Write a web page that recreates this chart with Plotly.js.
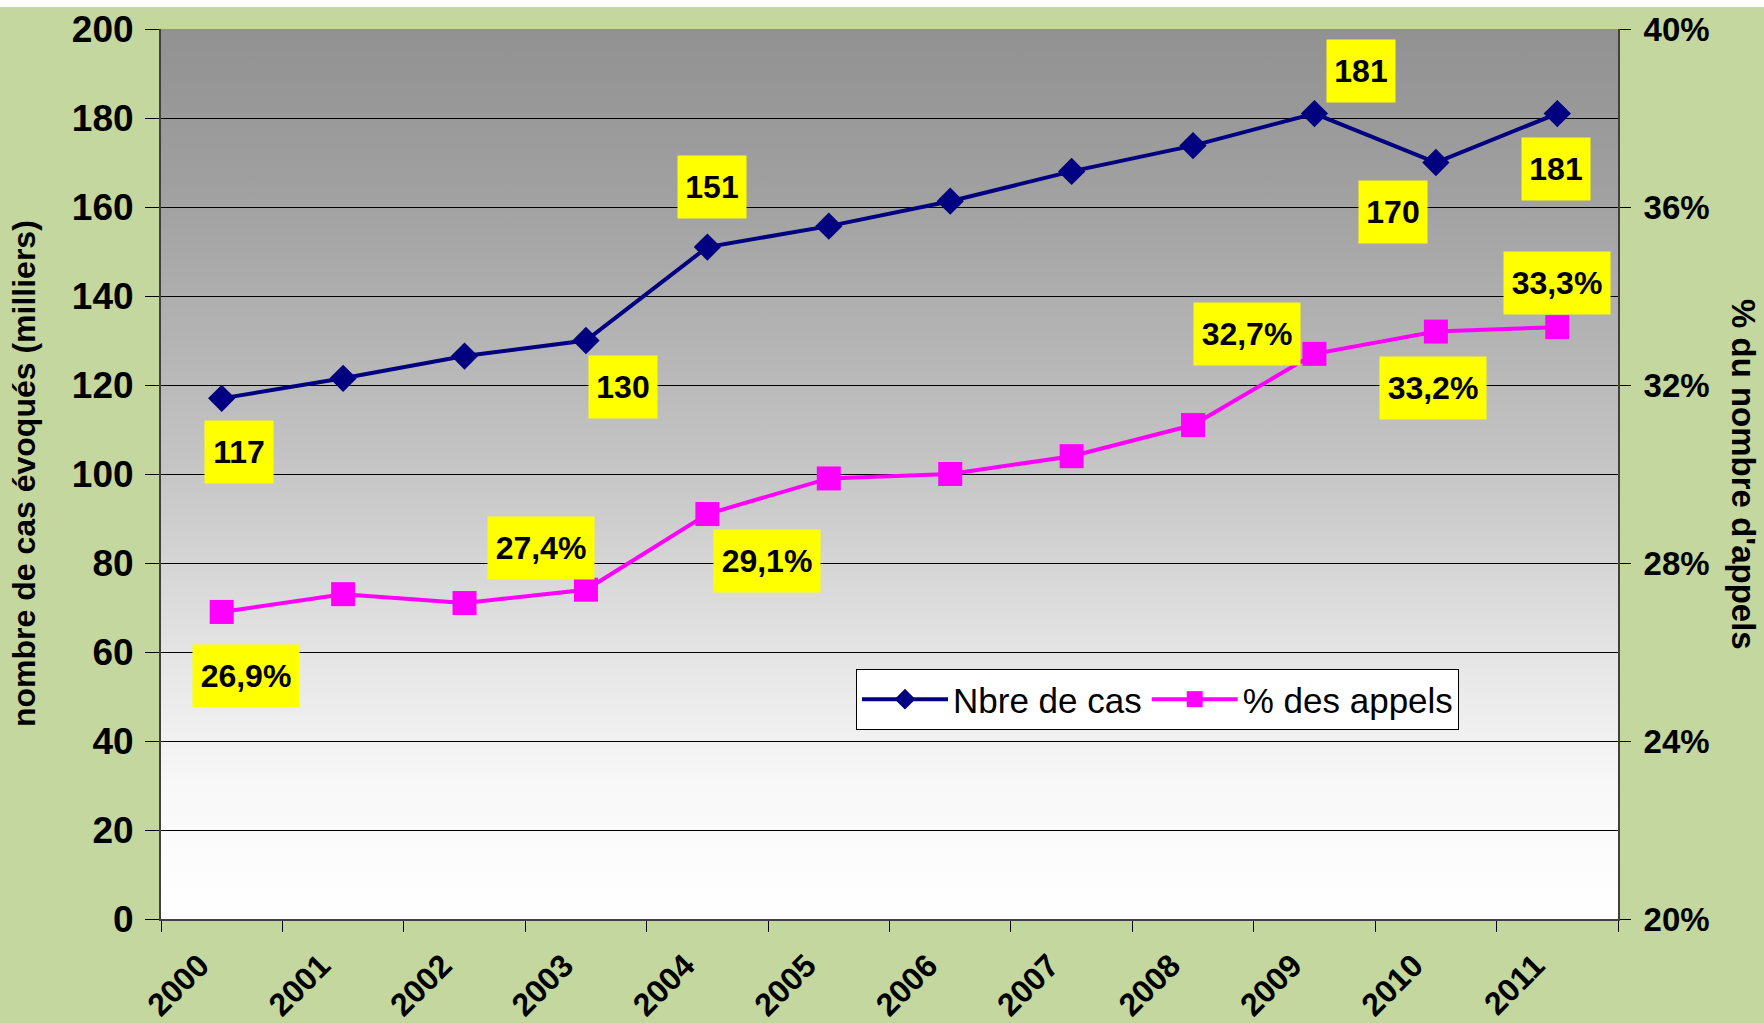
<!DOCTYPE html>
<html>
<head>
<meta charset="utf-8">
<script src="https://cdn.plot.ly/plotly-3.0.1.min.js"></script>
<style>
  html, body { margin: 0; padding: 0; background: #ffffff; }
  #chart { width: 1764px; height: 1023px; }
</style>
</head>
<body>
<div id="chart"></div>
<script>
// ---- data ----
const years = ['2000','2001','2002','2003','2004','2005','2006','2007','2008','2009','2010','2011'];
const nbreCas = [117, 121.5, 126.5, 130, 151, 155.7, 161.3, 168, 173.8, 181, 170, 181];
const pctAppels = [26.9, 27.3, 27.1, 27.4, 29.1, 29.9, 30.0, 30.4, 31.1, 32.7, 33.2, 33.3];
const casLabelYears = ['2000','2003','2004','2009','2010','2011'];
const pctLabelYears = ['2000','2003','2004','2009','2010','2011'];
const seriesNames = ['Nbre de cas', '% des appels'];
const yTitleLeft = 'nombre de cas évoqués (milliers)';
const yTitleRight = "% du nombre d'appels";

// ---- styles ----
const FONT = '"Liberation Sans", Arial, sans-serif';
const GREEN = '#c4d79e';
const NAVY = '#000080';
const PINK = '#ff00ff';
// label offsets in pixels (dx right, dy down) per labelled year
const casOffsets = {'2000':[17,54],'2003':[37,46],'2004':[5,-60],'2009':[47,-43],'2010':[-43,49],'2011':[-1,55]};
const pctOffsets = {'2000':[24,64],'2003':[-45,-42],'2004':[60,47],'2009':[-67,-20],'2010':[-3,56],'2011':[0,-44]};

function fmt(v, pct) {
  return pct ? v.toFixed(1).replace('.', ',') + '%' : String(Math.round(v));
}

const annotations = [];
casLabelYears.forEach(y => {
  const i = years.indexOf(y);
  const off = casOffsets[y];
  annotations.push({
    x: i, y: nbreCas[i], xref: 'x', yref: 'y',
    text: fmt(nbreCas[i], false), showarrow: false,
    xshift: off[0], yshift: -off[1],
    bgcolor: '#ffff00', width: 66, height: 60,
    font: {family: FONT, size: 32, color: '#000000', weight: 'bold'}
  });
});
pctLabelYears.forEach(y => {
  const i = years.indexOf(y);
  const off = pctOffsets[y];
  annotations.push({
    x: i, y: pctAppels[i], xref: 'x', yref: 'y2',
    text: fmt(pctAppels[i], true), showarrow: false,
    xshift: off[0], yshift: -off[1],
    bgcolor: '#ffff00', width: 104, height: 60,
    font: {family: FONT, size: 32, color: '#000000', weight: 'bold'}
  });
});
annotations.push({
  text: yTitleLeft, xref: 'paper', yref: 'paper', x: -0.094, y: 0.5,
  xanchor: 'center', yanchor: 'middle', textangle: -90, showarrow: false,
  font: {family: FONT, size: 32, color: '#000000', weight: 'bold'}
});
annotations.push({
  text: yTitleRight, xref: 'paper', yref: 'paper', x: 1.0865, y: 0.5,
  xanchor: 'center', yanchor: 'middle', textangle: 90, showarrow: false,
  font: {family: FONT, size: 33, color: '#000000', weight: 'bold'}
});

const gradSvg = '<svg xmlns="http://www.w3.org/2000/svg" width="100" height="100" preserveAspectRatio="none">' +
  '<defs><linearGradient id="g" x1="0" y1="0" x2="0" y2="1">' +
  '<stop offset="0" stop-color="#919191"/>' +
  '<stop offset="0.2" stop-color="#a2a2a2"/>' +
  '<stop offset="0.5" stop-color="#c6c6c6"/>' +
  '<stop offset="0.7" stop-color="#e4e4e4"/>' +
  '<stop offset="0.85" stop-color="#f8f8f8"/>' +
  '<stop offset="1" stop-color="#ffffff"/>' +
  '</linearGradient></defs><rect width="100" height="100" fill="url(#g)"/></svg>';
const gradSrc = 'data:image/svg+xml;base64,' + btoa(gradSvg);

const traces = [
  {x: years, y: nbreCas, name: seriesNames[0], type: 'scatter', mode: 'lines+markers', yaxis: 'y',
   line: {color: NAVY, width: 4}, marker: {symbol: 'diamond', size: 21, color: NAVY}},
  {x: years, y: pctAppels, name: seriesNames[1], type: 'scatter', mode: 'lines+markers', yaxis: 'y2',
   line: {color: PINK, width: 4}, marker: {symbol: 'square', size: 24, color: PINK}}
];

const layout = {
  width: 1764, height: 1023,
  margin: {l: 161, r: 146, t: 29, b: 104, pad: 0},
  paper_bgcolor: GREEN, plot_bgcolor: 'rgba(0,0,0,0)',
  separators: ',.', showlegend: true,
  legend: {orientation: 'h', x: 0.477, y: 0.281, xanchor: 'left', yanchor: 'top',
    bgcolor: '#ffffff', bordercolor: '#000000', borderwidth: 1,
    font: {family: FONT, size: 35, color: '#000000'}, itemwidth: 86},
  xaxis: {type: 'category', tickson: 'boundaries', ticks: 'outside', ticklen: 11,
    tickcolor: '#000000', tickwidth: 1, showgrid: false, showline: true, linecolor: '#404040', linewidth: 2,
    tickangle: -45, ticklabelshift: -22, ticklabelstandoff: 13,
    tickfont: {family: FONT, size: 32, color: '#000000', weight: 'bold'},
    range: [-0.5, 11.5], zeroline: false},
  yaxis: {range: [0, 200], dtick: 20, tick0: 0, ticks: 'outside', ticklen: 14, tickcolor: '#000000',
    showgrid: true, gridcolor: '#000000', gridwidth: 1, showline: true, linecolor: '#404040', linewidth: 2,
    zeroline: false, ticklabelstandoff: 4, tickfont: {family: FONT, size: 37, color: '#000000', weight: 'bold'}},
  yaxis2: {overlaying: 'y', side: 'right', range: [20, 40], dtick: 4, tick0: 20, ticksuffix: '%',
    ticks: 'outside', ticklen: 11, tickcolor: '#000000', showgrid: false, showline: true, linecolor: '#404040', linewidth: 2,
    zeroline: false, ticklabelstandoff: 6, tickfont: {family: FONT, size: 33, color: '#000000', weight: 'bold'}},
  images: [{source: gradSrc, xref: 'paper', yref: 'paper', x: 0, y: 1, sizex: 1, sizey: 1,
    xanchor: 'left', yanchor: 'top', sizing: 'stretch', layer: 'below'}],
  shapes: [{type: 'rect', xref: 'paper', yref: 'paper', ysizemode: 'pixel', yanchor: 1,
    x0: -0.2, x1: 1.2, y0: 22, y1: 60, fillcolor: '#ffffff', line: {width: 0}, layer: 'below'}],
  annotations: annotations
};

Plotly.newPlot('chart', traces, layout, {displayModeBar: false, staticPlot: true});
</script>
</body>
</html>
